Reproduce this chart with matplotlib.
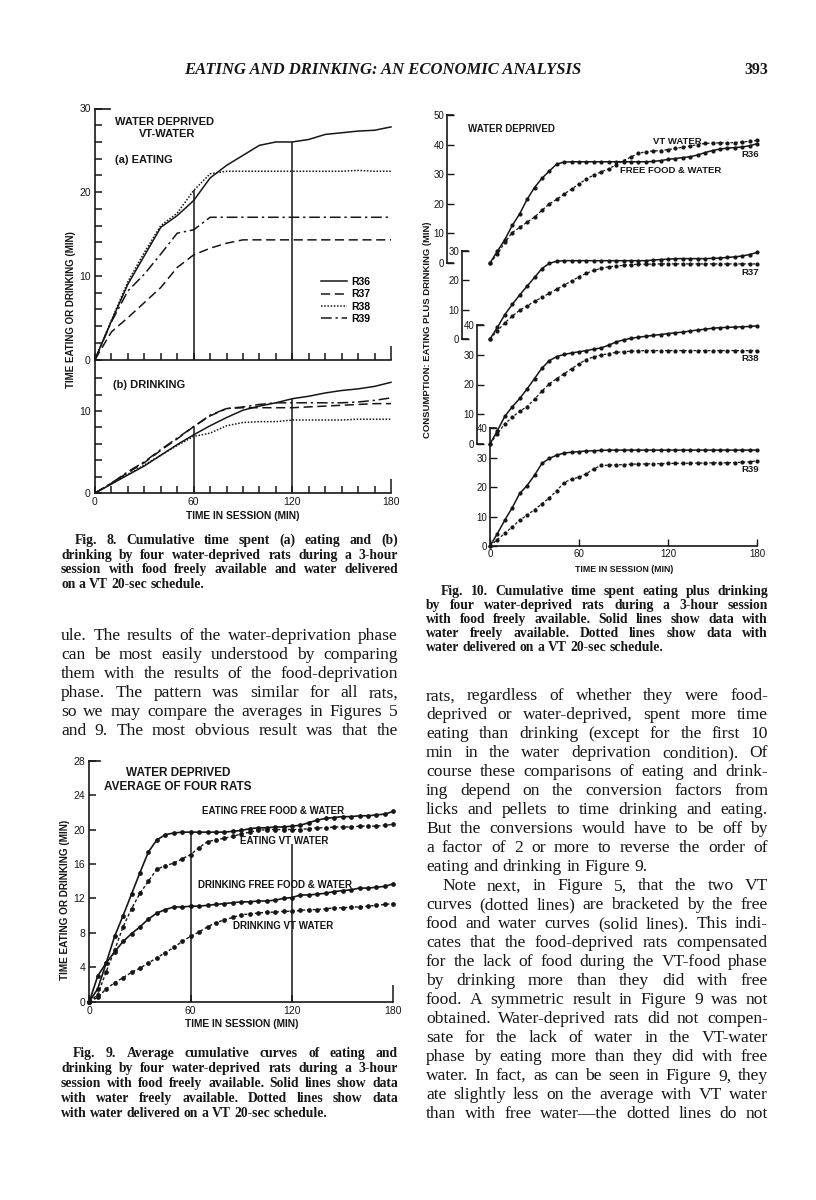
import matplotlib
matplotlib.use("Agg")
import matplotlib.pyplot as plt
from matplotlib.transforms import IdentityTransform

# ---------------------------------------------------------------- data
MIN10 = list(range(0, 181, 10))
MIN5 = list(range(0, 181, 5))
RATS = ["R36", "R37", "R38", "R39"]
GUIDE_T = [60, 120]

# Fig. 8 (a) eating, values every 10 min
F8_EAT_R36 = [0, 4.6, 9.0, 12.4, 15.8, 17.2, 19.0, 21.7, 23.2, 24.4, 25.6, 26.0, 26.0, 26.3, 26.9, 27.1, 27.3, 27.4, 27.8]
F8_EAT_R37 = [0, 3.3, 5.0, 6.8, 8.6, 11.0, 12.5, 13.3, 13.9, 14.3, 14.3, 14.3, 14.3, 14.3, 14.3, 14.3, 14.3, 14.3, 14.3]
F8_EAT_R38 = [0, 4.7, 9.3, 12.8, 16.0, 17.5, 20.2, 22.2, 22.5, 22.5, 22.5, 22.5, 22.5, 22.5, 22.5, 22.5, 22.6, 22.5, 22.5]
F8_EAT_R39 = [0, 4.5, 8.2, 10.2, 12.6, 15.1, 15.5, 17.0, 17.0, 17.0, 17.0, 17.0, 17.0, 17.0, 17.0, 17.0, 17.0, 17.0, 17.0]
F8_EAT_GUIDE = [20.2, 26.0]
# Fig. 8 (b) drinking
F8_DRK_R36 = [0, 1.1, 2.2, 3.3, 4.6, 5.9, 7.1, 8.2, 9.2, 10.1, 10.6, 11.0, 11.5, 11.8, 12.2, 12.5, 12.7, 13.0, 13.5]
F8_DRK_R37 = [0, 1.2, 2.5, 3.7, 5.2, 6.6, 8.1, 9.4, 10.3, 10.4, 10.4, 10.4, 10.4, 10.5, 10.6, 10.7, 10.8, 10.9, 10.9]
F8_DRK_R38 = [0, 1.1, 2.3, 3.4, 4.6, 5.8, 6.9, 7.3, 8.2, 8.6, 8.7, 8.7, 8.9, 8.9, 8.9, 8.9, 9.0, 9.0, 9.0]
F8_DRK_R39 = [0, 1.2, 2.6, 3.8, 5.3, 6.7, 8.1, 9.5, 10.3, 10.5, 10.8, 11.0, 11.0, 11.0, 11.0, 11.0, 11.1, 11.3, 11.6]
F8_DRK_GUIDE = [8.1, 11.5]

# Fig. 9 averages, values every 5 min
F9_EAT_FREE = [0, 1.5, 4.5, 7.6, 10.0, 12.5, 15.0, 17.4, 18.8, 19.4, 19.6, 19.7,
               19.7, 19.7, 19.7, 19.7, 19.7, 19.8, 19.9, 20.1, 20.2, 20.2, 20.3, 20.3,
               20.4, 20.5, 20.8, 21.1, 21.3, 21.4, 21.5, 21.5, 21.6, 21.6, 21.7, 21.8,
               22.1]
F9_EAT_VT = [0, 0.8, 3.5, 6.0, 8.7, 10.8, 12.6, 14.0, 15.4, 15.8, 16.1, 16.6,
             17.1, 17.9, 18.6, 18.8, 19.0, 19.2, 19.5, 19.7, 19.9, 20.0, 20.0, 20.0,
             20.0, 20.0, 20.1, 20.2, 20.2, 20.3, 20.3, 20.3, 20.4, 20.4, 20.4, 20.5,
             20.6]
F9_DRK_FREE = [0, 3.0, 4.5, 5.8, 7.0, 7.9, 8.7, 9.6, 10.3, 10.7, 11.0, 11.0,
               11.1, 11.1, 11.2, 11.3, 11.4, 11.5, 11.6, 11.6, 11.7, 11.7, 11.8, 12.0,
               12.1, 12.4, 12.4, 12.5, 12.6, 12.8, 12.9, 13.0, 13.2, 13.2, 13.3, 13.4,
               13.7]
F9_DRK_VT = [0, 0.5, 1.5, 2.2, 2.8, 3.4, 3.9, 4.5, 5.1, 5.7, 6.3, 7.0,
             7.6, 8.1, 8.7, 9.2, 9.5, 9.8, 10.1, 10.2, 10.3, 10.4, 10.4, 10.5,
             10.5, 10.6, 10.7, 10.7, 10.8, 10.9, 10.9, 11.0, 11.0, 11.1, 11.2, 11.3,
             11.4]
F9_GUIDE = [19.7, 18.3]

# Fig. 10 eating plus drinking, values every 5 min
F10_R36_FREE = [0, 4.0, 7.9, 12.7, 16.6, 21.5, 25.5, 28.6, 31.1, 33.4, 34.1, 34.2,
                34.2, 34.2, 34.2, 34.2, 34.2, 34.2, 34.2, 34.2, 34.2, 34.2, 34.3, 34.6,
                35.0, 35.3, 35.6, 35.9, 36.5, 37.3, 38.0, 38.5, 38.8, 39.0, 39.2, 39.6,
                40.3]
F10_R36_VT = [0, 3.0, 7.0, 10.3, 12.0, 13.8, 15.5, 17.8, 20.0, 21.5, 23.3, 25.0,
              26.7, 28.4, 29.7, 30.8, 31.8, 33.2, 34.6, 35.8, 37.0, 37.6, 37.8, 38.0,
              38.3, 38.7, 39.1, 39.5, 40.0, 40.4, 40.5, 40.6, 40.6, 40.7, 40.9, 41.1,
              41.4]
F10_R37_FREE = [0, 4.0, 8.3, 11.8, 15.0, 18.0, 21.0, 24.0, 25.8, 26.5, 26.7, 26.7,
                26.7, 26.7, 26.7, 26.7, 26.7, 26.7, 26.7, 26.7, 26.7, 26.7, 26.9, 27.1,
                27.2, 27.4, 27.4, 27.4, 27.4, 27.4, 27.5, 27.6, 27.8, 28.0, 28.3, 28.8,
                29.5]
F10_R37_VT = [0, 2.8, 5.5, 7.8, 9.8, 11.3, 12.8, 14.2, 15.6, 17.0, 18.4, 19.8,
              21.2, 22.4, 23.4, 24.1, 24.6, 24.9, 25.1, 25.3, 25.5, 25.5, 25.5, 25.6,
              25.6, 25.6, 25.6, 25.6, 25.6, 25.6, 25.6, 25.6, 25.6, 25.6, 25.6, 25.6,
              25.6]
F10_R38_FREE = [0, 4.5, 9.3, 12.5, 15.3, 18.5, 22.0, 25.5, 28.0, 29.4, 30.1, 30.6,
                31.0, 31.4, 31.9, 32.3, 33.2, 34.3, 35.0, 35.5, 35.9, 36.2, 36.5, 36.8,
                37.1, 37.4, 37.6, 38.0, 38.3, 38.6, 38.9, 39.1, 39.2, 39.3, 39.4, 39.5,
                39.7]
F10_R38_VT = [0, 3.5, 6.8, 9.0, 11.0, 12.6, 15.0, 17.8, 20.2, 22.0, 23.6, 25.3,
              27.0, 28.4, 29.3, 29.9, 30.4, 30.8, 31.0, 31.2, 31.3, 31.4, 31.4, 31.4,
              31.4, 31.4, 31.4, 31.4, 31.4, 31.4, 31.4, 31.4, 31.4, 31.4, 31.4, 31.4,
              31.3]
F10_R39_FREE = [0, 4.2, 8.8, 13.0, 17.8, 20.5, 24.0, 28.0, 29.7, 30.8, 31.5, 31.8,
                32.0, 32.2, 32.3, 32.4, 32.5, 32.5, 32.5, 32.5, 32.5, 32.5, 32.5, 32.5,
                32.5, 32.5, 32.5, 32.5, 32.5, 32.5, 32.5, 32.5, 32.5, 32.5, 32.5, 32.5,
                32.5]
F10_R39_VT = [0, 2.2, 4.3, 6.5, 8.7, 10.5, 12.3, 14.3, 16.3, 18.8, 21.5, 22.7,
              23.3, 24.5, 26.2, 27.3, 27.4, 27.5, 27.6, 27.7, 27.8, 27.8, 27.9, 27.9,
              28.0, 28.0, 28.0, 28.1, 28.1, 28.1, 28.2, 28.2, 28.2, 28.3, 28.4, 28.5,
              28.9]
F10_TOPS = [50, 30, 40, 40]

# ---------------------------------------------------------------- text
HEADER = "EATING AND DRINKING: AN ECONOMIC ANALYSIS"
PAGE_NO = "393"
CAP8 = ["Fig. 8. Cumulative time spent (a) eating and (b)",
        "drinking by four water-deprived rats during a 3-hour",
        "session with food freely available and water delivered",
        "on a VT 20-sec schedule."]
CAP9 = ["Fig. 9. Average cumulative curves of eating and",
        "drinking by four water-deprived rats during a 3-hour",
        "session with food freely available. Solid lines show data",
        "with water freely available. Dotted lines show data",
        "with water delivered on a VT 20-sec schedule."]
CAP10 = ["Fig. 10. Cumulative time spent eating plus drinking",
         "by four water-deprived rats during a 3-hour session",
         "with food freely available. Solid lines show data with",
         "water freely available. Dotted lines show data with",
         "water delivered on a VT 20-sec schedule."]
BODY_LEFT = ["ule. The results of the water-deprivation phase",
             "can be most easily understood by comparing",
             "them with the results of the food-deprivation",
             "phase. The pattern was similar for all rats,",
             "so we may compare the averages in Figures 5",
             "and 9. The most obvious result was that the"]
BODY_RIGHT = ["rats, regardless of whether they were food-",
              "deprived or water-deprived, spent more time",
              "eating than drinking (except for the first 10",
              "min in the water deprivation condition). Of",
              "course these comparisons of eating and drink-",
              "ing depend on the conversion factors from",
              "licks and pellets to time drinking and eating.",
              "But the conversions would have to be off by",
              "a factor of 2 or more to reverse the order of",
              "eating and drinking in Figure 9.",
              "Note next, in Figure 5, that the two VT",
              "curves (dotted lines) are bracketed by the free",
              "food and water curves (solid lines). This indi-",
              "cates that the food-deprived rats compensated",
              "for the lack of food during the VT-food phase",
              "by drinking more than they did with free",
              "food. A symmetric result in Figure 9 was not",
              "obtained. Water-deprived rats did not compen-",
              "sate for the lack of water in the VT-water",
              "phase by eating more than they did with free",
              "water. In fact, as can be seen in Figure 9, they",
              "ate slightly less on the average with VT water",
              "than with free water\u2014the dotted lines do not"]

# ---------------------------------------------------------------- setup
W, H = 816, 1200
INK = "#161616"
SANS = ["Liberation Sans", "DejaVu Sans"]
SERIF = ["Liberation Serif", "DejaVu Serif"]
plt.rcParams["font.family"] = SANS
plt.rcParams["axes.linewidth"] = 1.2
fig = plt.figure(figsize=(W / 100, H / 100), dpi=100)
fig.patch.set_facecolor("white")
renderer = fig.canvas.get_renderer()


def fx(x):
    return x / W


def fy(y):
    return 1 - y / H


def axes_px(left, right, bottom, top):
    ax = fig.add_axes([fx(left), fy(bottom), (right - left) / W, (bottom - top) / H])
    ax.patch.set_alpha(0)
    for s in ax.spines.values():
        s.set_color(INK)
        s.set_linewidth(1.2)
    return ax


def label(x, y, s, size=7.5, ha="left", rot=0, weight="bold"):
    fig.text(fx(x), fy(y), s, fontsize=size, ha=ha, va="center", rotation=rot,
             weight=weight, color=INK, family=SANS)


def set_line(line, x0, x1, yc, size, justify=True, indent=0, weight="normal"):
    words = line.split(" ")
    base = H - (yc + 0.30 * size * 100 / 72)
    objs = [fig.text(0, base, w, transform=IdentityTransform(), fontsize=size,
                     family=SERIF, weight=weight, color=INK, va="baseline", ha="left")
            for w in words]
    while True:
        widths = [o.get_window_extent(renderer).width for o in objs]
        nat = 0.25 * objs[0].get_fontsize() * 100 / 72
        if not justify or len(words) == 1:
            gap = nat
            break
        gap = (x1 - x0 - indent - sum(widths)) / (len(words) - 1)
        if gap >= 0.6 * nat:
            break
        for o in objs:
            o.set_fontsize(o.get_fontsize() - 0.2)
    x = x0 + indent
    for o, w in zip(objs, widths):
        o.set_x(x)
        x += w + gap


def paragraph(lines, x0, x1, y0, step, size, last_free=(), indents=None, weight="normal"):
    for i, ln in enumerate(lines):
        ind = indents.get(i, 0) if indents else 0
        set_line(ln, x0, x1, y0 + i * step, size, justify=(i not in last_free),
                 indent=ind, weight=weight)


# ---------------------------------------------------------------- page text
fig.text(fx(184), fy(70), HEADER, family=SERIF, style="italic", weight="bold",
         fontsize=12, va="center", ha="left", color=INK)
fig.text(fx(768), fy(70), PAGE_NO, family=SERIF, weight="bold", fontsize=11.5,
         va="center", ha="right", color=INK)

LX0, LX1 = 61, 398
RX0, RX1 = 426, 768
paragraph(CAP8, LX0, LX1, 540, 14.5, 9.8, last_free=(3,), indents={0: 14}, weight="bold")
paragraph(BODY_LEFT, LX0, LX1, 635, 19, 12.6)
paragraph(CAP9, LX0, LX1, 1053, 15, 9.8, last_free=(4,), indents={0: 12}, weight="bold")
paragraph(CAP10, RX0, RX1, 591, 14, 9.8, last_free=(4,), indents={0: 15}, weight="bold")
paragraph(BODY_RIGHT, RX0, RX1, 695, 19, 12.6, last_free=(9,), indents={10: 16})

# ---------------------------------------------------------------- Fig. 8
STY8 = ["-", (0, (6, 3)), (0, (1, 1.1)), (0, (7, 2.5, 1.5, 2.5))]
TICK_KW = dict(direction="in", width=1.1, colors=INK, labelsize=7.5, pad=3)

a8 = axes_px(95, 391, 359.5, 108.5)
a8.set_xlim(0, 180)
a8.set_ylim(0, 30)
for name, vals, ls in zip(RATS, [F8_EAT_R36, F8_EAT_R37, F8_EAT_R38, F8_EAT_R39], STY8):
    a8.plot(MIN10, vals, color=INK, lw=1.1, ls=ls, label=name, clip_on=False)
a8.vlines(GUIDE_T, 0, F8_EAT_GUIDE, color=INK, lw=1.1)
a8.spines["right"].set_visible(False)
a8.spines["top"].set_bounds(0, 9)
a8.set_yticks(range(0, 31, 2))
a8.set_yticklabels([str(v) if v % 10 == 0 else "" for v in range(0, 31, 2)])
a8.set_xticks(MIN10)
a8.set_xticklabels([])
a8.tick_params(length=5, **TICK_KW)
a8.xaxis.get_major_ticks()[-1].tick1line.set_markersize(10)
a8.legend(loc="upper left", bbox_to_anchor=(fx(321), fy(277)), bbox_transform=fig.transFigure,
          frameon=False, handlelength=2.5, handletextpad=0.4,
          labelspacing=0.22, borderpad=0, borderaxespad=0,
          prop={"family": SANS, "weight": "bold", "size": 7.5})

b8 = axes_px(95, 391, 493, 359.5)
b8.set_xlim(0, 180)
b8.set_ylim(0, (493 - 359.5) / 8.2)
for name, vals, ls in zip(RATS, [F8_DRK_R36, F8_DRK_R37, F8_DRK_R38, F8_DRK_R39], STY8):
    b8.plot(MIN10, vals, color=INK, lw=1.1, ls=ls, clip_on=False)
b8.vlines(GUIDE_T, 0, F8_DRK_GUIDE, color=INK, lw=1.1)
b8.spines["right"].set_visible(False)
b8.spines["top"].set_visible(False)
b8.set_yticks(range(0, 15, 2))
b8.set_yticklabels([str(v) if v % 10 == 0 else "" for v in range(0, 15, 2)])
b8.set_xticks(MIN10)
b8.set_xticklabels([str(v) if v % 60 == 0 else "" for v in MIN10])
b8.tick_params(length=5, **TICK_KW)
b8.xaxis.get_major_ticks()[-1].tick1line.set_markersize(10)

label(115, 122, "WATER DEPRIVED", 8)
label(139, 134, "VT-WATER", 8)
label(115, 160, "(a) EATING", 8)
label(113, 385, "(b) DRINKING", 8)
label(71, 310, "TIME EATING OR DRINKING (MIN)", 7, ha="center", rot=90)
label(243, 516, "TIME IN SESSION (MIN)", 7.4, ha="center")

# ---------------------------------------------------------------- Fig. 9
a9 = axes_px(89.3, 393.3, 1001.7, 760.7)
a9.set_xlim(0, 180)
a9.set_ylim(0, 28)
DOTS = dict(marker="o", ms=2.4, color=INK, clip_on=False)
a9.plot(MIN5, F9_EAT_FREE, lw=1.2, ls="-", **DOTS)
a9.plot(MIN5, F9_EAT_VT, lw=1.0, ls=(0, (2.2, 1.6)), **DOTS)
a9.plot(MIN5, F9_DRK_FREE, lw=1.2, ls="-", **DOTS)
a9.plot(MIN5, F9_DRK_VT, lw=1.0, ls=(0, (2.2, 1.6)), **DOTS)
a9.vlines(GUIDE_T, 0, F9_GUIDE, color=INK, lw=1.1)
a9.spines["right"].set_visible(False)
a9.spines["top"].set_bounds(0, 6.3)
a9.set_yticks(range(0, 29, 4))
a9.set_xticks([0, 60, 120, 180])
a9.tick_params(length=5, **TICK_KW)
a9.xaxis.get_major_ticks()[-1].tick1line.set_markersize(12)
a9.text(52.5, 26.6, "WATER DEPRIVED", fontsize=8.5, weight="bold", ha="center", va="center", color=INK)
a9.text(52.5, 24.9, "AVERAGE OF FOUR RATS", fontsize=8.5, weight="bold", ha="center", va="center", color=INK)
a9.text(66.6, 22.1, "EATING FREE FOOD & WATER", fontsize=7, weight="bold", va="center", color=INK)
a9.text(89.3, 18.7, "EATING VT WATER", fontsize=7, weight="bold", va="center", color=INK)
a9.text(64.2, 13.6, "DRINKING FREE FOOD & WATER", fontsize=7, weight="bold", va="center", color=INK)
a9.text(85.1, 8.8, "DRINKING VT WATER", fontsize=7, weight="bold", va="center", color=INK)
label(65, 900, "TIME EATING OR DRINKING (MIN)", 7.2, ha="center", rot=90)
label(242, 1024, "TIME IN SESSION (MIN)", 7.4, ha="center")

# ---------------------------------------------------------------- Fig. 10
PX_PER_MIN = (757 - 490) / 180
F10_AXES = [(447, 263, 115), (462, 339, 251), (477, 444, 325), (490, 546, 428)]
F10_FREE = [F10_R36_FREE, F10_R37_FREE, F10_R38_FREE, F10_R39_FREE]
F10_VT = [F10_R36_VT, F10_R37_VT, F10_R38_VT, F10_R39_VT]
f10 = []
for i, ((left, y0p, y1p), top, free, vt) in enumerate(zip(F10_AXES, F10_TOPS, F10_FREE, F10_VT)):
    ax = axes_px(left, 757, y0p, y1p)
    xmin = -(490 - left) / PX_PER_MIN
    ax.set_xlim(xmin, 180)
    ax.set_ylim(0, top)
    ax.plot(MIN5, free, lw=1.1, ls="-", marker="o", ms=2.0, color=INK, clip_on=False)
    ax.plot(MIN5, vt, lw=0.9, ls=(0, (2.2, 1.6)), marker="o", ms=2.0, color=INK, clip_on=False)
    ax.spines["right"].set_visible(False)
    stub = 6 / PX_PER_MIN
    ax.spines["top"].set_bounds(xmin, xmin + stub)
    ax.set_yticks(range(0, top + 1, 10))
    if i < 3:
        ax.spines["bottom"].set_bounds(xmin, xmin + stub)
        ax.set_xticks([])
    else:
        ax.spines["bottom"].set_bounds(0, 180)
        ax.set_xticks([0, 60, 120, 180])
    ax.tick_params(direction="in", width=1.0, length=5, colors=INK, labelsize=7, pad=2)
    f10.append(ax)

f10[0].text(-14.8, 45.3, "WATER DEPRIVED", fontsize=7, weight="bold", va="center", color=INK)
f10[0].text(110, 41.2, "VT WATER", fontsize=6.8, weight="bold", va="center", color=INK)
f10[0].text(169.3, 36.5, "R36", fontsize=6.8, weight="bold", va="center", color=INK)
f10[0].text(87.6, 31.4, "FREE FOOD & WATER", fontsize=6.8, weight="bold", va="center", color=INK)
f10[1].text(169.3, 22.5, "R37", fontsize=6.8, weight="bold", va="center", color=INK)
f10[2].text(169.3, 28.9, "R38", fontsize=6.8, weight="bold", va="center", color=INK)
f10[3].text(169.3, 25.8, "R39", fontsize=6.8, weight="bold", va="center", color=INK)
label(428, 330, "CONSUMPTION: EATING PLUS DRINKING (MIN)", 6.8, ha="center", rot=90)
label(624, 569, "TIME IN SESSION (MIN)", 6.3, ha="center")

fig.savefig("out.png", dpi=100, facecolor="white")
